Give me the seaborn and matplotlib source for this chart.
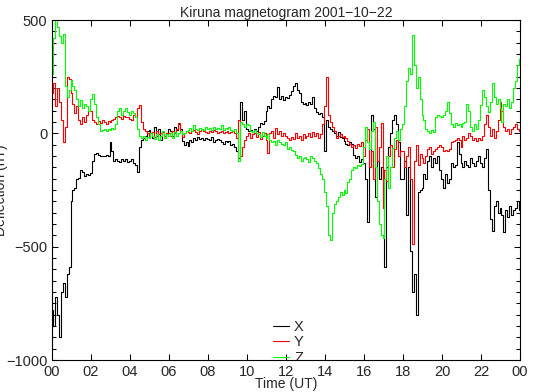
import numpy as np
import pandas as pd
import matplotlib
matplotlib.use("Agg")
import matplotlib.pyplot as plt
from matplotlib.ticker import MultipleLocator
import seaborn as sns

# time axis: every 0.1 h, 00 -> 24 UT
saat = np.round(np.arange(0, 24.01, 0.1), 1)

# X component (nT), one row per hour
x_deger = [
    -780, -850, -720, -800, -900, -700, -660, -720, -620, -590,
    -300, -250, -240, -200, -195, -160, -170, -190, -180, -185,
    -175, -120, -90, -85, -95, -100, -100, -100, -95, -100,
    -40, -80, -120, -115, -120, -125, -115, -120, -115, -125,
    -120, -115, -130, -140, -170, -60, -30, -20, -10, 10,
    15, 0, -20, 30, -10, 20, -30, 10, -20, 0,
    20, 10, -10, 30, 15, 40, 20, -35, -50, -40,
    -55, -30, -40, -20, -30, -15, -25, -20, -30, -20,
    -25, -30, -15, -40, -30, -25, -30, -40, -45, -35,
    -40, -35, -50, -45, -60, -80, -110, 140, 60, 100,
    20, 10, 15, 5, 20, 10, 30, 45, 40, 55,
    100, 120, 110, 150, 165, 160, 205, 150, 165, 145,
    160, 155, 170, 185, 210, 220, 190, 180, 140, 130,
    135, 125, 140, 130, 160, 110, 95, 85, 90, 70,
    -80, 60, 30, 20, 10, 0, -10, 5, -15, -20,
    -35, -45, -50, -40, -45, -95, -110, -100, -125, -115,
    -130, -200, -390, -150, 80, 20, -280, -120, -200, -150,
    -250, -590, -150, -60, 0, 60, 80, 40, -40, -200,
    -200, -120, -360, -150, -520, -700, -620, -800, -260, -250,
    -240, -180, -200, -120, -100, -150, -110, -130, -100, -160,
    -200, -240, -180, -220, -200, -130, -150, -140, -40, -90,
    -130, -150, -120, -140, -150, -110, -130, -145, -120, -100,
    -130, -150, -110, -70, -250, -380, -430, -320, -300, -350,
    -330, -360, -435, -340, -370, -320, -360, -340, -330, -300,
    -340,
]

# Y component (nT)
y_deger = [
    180, 220, 120, 200, 140, 60, -40, 30, 250, 240,
    180, 130, 90, 120, 60, 40, 70, 50, 80, 100,
    100, 60, 50, 40, 55, 45, 60, 50, 40, 55,
    50, 60, 65, 70, 75, 70, 65, 75, 70, 70,
    65, 60, 80, 70, 110, 125, 50, 20, 10, 0,
    -10, 0, 5, -15, 10, -5, 0, 5, -10, 0,
    0, -10, 10, 0, 20, 45, 10, -15, 0, 10,
    5, 0, 10, 15, 5, -5, 10, 20, 10, 5,
    0, 10, 5, 15, 10, 0, 5, 10, 0, 5,
    10, 0, 5, 10, 0, -20, 60, -100, -60, -30,
    -10, 0, -20, -5, 0, -15, 5, -25, -10, 0,
    -30, -88, 0, 10, -20, 25, -5, 10, -10, 0,
    -10, -20, -30, -15, -25, 0, -20, -10, -30, -5,
    -20, -10, 0, -15, 5, -10, 0, -20, -5, 40,
    120, 250, 80, 50, 30, 10, -20, -10, -5, -15,
    -10, -20, -35, -45, -60, -50, -66, -45, -55, -40,
    -100, -30, 20, -150, -80, -200, 30, -120, -60, 45,
    -330, -160, -210, -100, -50, -150, -70, -30, -100, -80,
    -80, -150, -100, -60, -200, -490, -120, -50, -140, -90,
    -110, -130, -100, -70, -60, -90, -80, -70, -60, -50,
    -60, -80, -75, -80, -70, -40, -35, -30, -20, -30,
    -60, -10, -30, -20, 0, -10, -30, -20, -35, -20,
    -30, -10, 40, 80, 30, -10, 20, -20, 10, 60,
    140, 100, 30, 10, 20, -5, 20, 30, 40, 20,
    10,
]

# Z component (nT)
z_deger = [
    260, 420, 500, 470, 430, 400, 440, 210, 160, 190,
    235, 210, 190, 150, 120, 145, 110, 130, 120, 100,
    150, 175, 130, 70, 40, 10, 15, 20, 10, 20,
    15, 25, 20, 40, 100, 110, 80, 100, 110, 95,
    80, 100, 90, 70, 20, -10, -20, -10, -30, -15,
    -20, 0, -10, -25, -5, -30, -10, 10, -20, -5,
    -10, 0, -20, 5, -10, 0, 10, -5, 0, 10,
    15, 25, 10, 35, 20, 15, 25, 20, 15, 30,
    20, 25, 15, 30, 20, 25, 20, 35, 15, 25,
    20, 30, 15, 10, 20, 0, -120, 50, 40, 30,
    40, 35, 10, 5, 15, 0, -5, -15, 5, -10,
    -20, -5, -30, -40, -35, -50, -30, -40, -45, -50,
    -40, -70, -60, -75, -80, -95, -110, -100, -120, -110,
    -105, -115, -125, -100, -110, -120, -130, -155, -180, -200,
    -260, -320, -450, -470, -350, -310, -300, -280, -260, -270,
    -250, -265, -215, -200, -160, -150, -155, -140, -145, -135,
    -60, 30, -40, -70, 10, 50, -150, -300, -400, -450,
    -460, -200, -100, -240, -150, -66, -20, 10, -30, 20,
    40, 120, 230, 290, 260, 434, 300, 200, 250, 150,
    80, 60, 20, 10, 0, 15, 5, 70, 80, 75,
    70, 80, 100, 140, 90, 40, 30, 45, 35, 40,
    30, 45, 50, 130, 100, 30, 10, 40, 20, 60,
    125, 190, 160, 120, 95, 140, 220, 160, 130, 150,
    110, 50, 130, 120, 150, 110, 140, 200, 230, 300,
    330,
]

bilesenler = ['X', 'Y', 'Z']
renkler = {'X': 'black', 'Y': '#ff0000', 'Z': '#00ff00'}
xtick_saat = list(range(0, 25, 2))
xtick_etiket = [f'{h % 24:02d}' for h in xtick_saat]
ytick_deger = [-1000, -500, 0, 500]

df = pd.DataFrame({'saat': np.tile(saat, 3),
                   'deger': np.concatenate([x_deger, y_deger, z_deger]),
                   'bilesen': np.repeat(bilesenler, len(saat))})

sns.set_style('ticks')
plt.rcParams['font.family'] = ['Liberation Sans', 'DejaVu Sans']
plt.rcParams['font.size'] = 10

fig = plt.figure(figsize=(5.35, 3.92), dpi=100)
ax = fig.add_axes([52/535, 1 - 360/392, 468/535, 340/392])

sns.lineplot(data=df, x='saat', y='deger', hue='bilesen', palette=renkler,
             ax=ax, linewidth=0.8, drawstyle='steps-mid', legend=False)

ax.set_xlim(0, 24)
ax.set_ylim(-1000, 500)
ax.set_xticks(xtick_saat)
ax.set_xticklabels(xtick_etiket)
ax.set_yticks(ytick_deger)
ax.set_yticklabels([str(v).replace('-', '\u2212') for v in ytick_deger])
ax.yaxis.set_minor_locator(MultipleLocator(50))

ax.tick_params(which='both', direction='in', top=True, right=True,
               width=0.75, color='black', labelsize=10.5, pad=3.5)
ax.tick_params(which='major', length=4)
ax.tick_params(which='minor', length=3)
ax.tick_params(axis='x', which='minor', top=False, bottom=False)
for sp in ax.spines.values():
    sp.set_linewidth(0.8)
    sp.set_color('black')

ax.set_title('Kiruna magnetogram 2001\u221210\u221222', fontsize=10, pad=2)
ax.set_xlabel('Time (UT)', fontsize=10, labelpad=-1)
ax.set_ylabel('Deflection (nT)', fontsize=10)
ax.yaxis.set_label_coords(-0.094, 0.5)

# legend in the lower middle, as in the original
cizgiler = [plt.Line2D([], [], color=renkler[b], lw=0.8) for b in bilesenler]
leg = ax.legend(cizgiler, bilesenler, loc='upper left',
                bbox_to_anchor=(0.472, 0.118), bbox_transform=ax.transAxes,
                frameon=False, borderpad=0, borderaxespad=0,
                handlelength=1.1, handletextpad=0.35, labelspacing=0.1,
                fontsize=10.5)
for t in leg.get_texts():
    t.set_clip_box(ax.bbox)
    t.set_clip_on(True)

fig.savefig('out.png', dpi=100)
